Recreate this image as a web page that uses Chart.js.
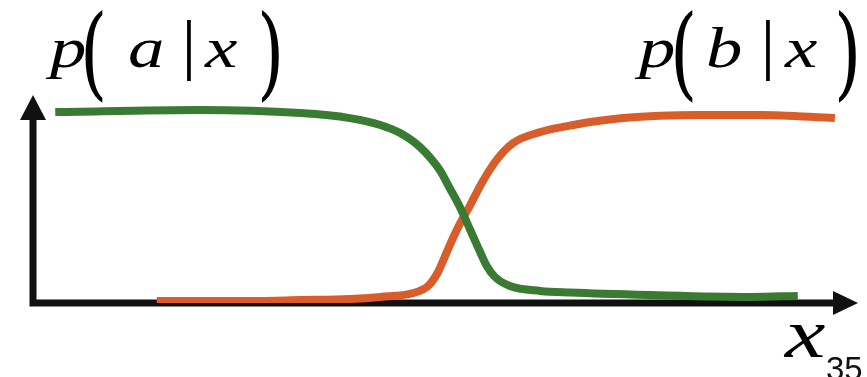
<!DOCTYPE html>
<html>
<head>
<meta charset="utf-8">
<script src="https://cdn.jsdelivr.net/npm/chart.js@4.4.1/dist/chart.umd.min.js"></script>
<style>
  html, body { margin: 0; padding: 0; background: #fff; }
  #wrap { position: relative; width: 867px; height: 377px; overflow: hidden; }
  .m { position: absolute; font-family: "Liberation Serif", "DejaVu Serif", serif; font-style: italic; line-height: 1; color: #000; white-space: nowrap; font-size: 56px; transform: scaleX(1.3); transform-origin: 0 0; }
  .par { position: absolute; font-family: "DejaVu Serif", serif; line-height: 1; color: #000; font-size: 70px; transform: scaleY(1.45); transform-origin: 50% 37px; }
  .bar { position: absolute; font-family: "Liberation Serif", serif; font-weight: bold; line-height: 1; color: #000; font-size: 54px; transform: scaleY(1.25); transform-origin: 50% 57px; }
  .num { position: absolute; font-family: "Liberation Sans", Arial, sans-serif; line-height: 1; color: #111; font-size: 33px; }
</style>
</head>
<body>
<div id="wrap">
  <canvas id="grafico"></canvas>

  <!-- p(a|x) -->
  <span class="m" style="left:50px;top:20px">p</span>
  <span class="par" style="left:80px;top:18px">(</span>
  <span class="m" style="left:128px;top:20px">a</span>
  <span class="bar" style="left:183px;top:25px">|</span>
  <span class="m" style="left:205px;top:20px">x</span>
  <span class="par" style="left:257px;top:18px">)</span>

  <!-- p(b|x) -->
  <span class="m" style="left:639px;top:20px">p</span>
  <span class="par" style="left:670px;top:18px">(</span>
  <span class="m" style="left:706px;top:20px">b</span>
  <span class="bar" style="left:762px;top:25px">|</span>
  <span class="m" style="left:785px;top:20px">x</span>
  <span class="par" style="left:834px;top:18px">)</span>

  <!-- eixo x -->
  <span class="m" style="left:785px;top:299px;font-size:70px">x</span>
  <span class="num" style="left:826px;top:352px">35</span>
</div>

<script>
// dados (x em unidades 0-100, y em probabilidade 0-1)
const xVerde = [2.7, 20.2, 32.4, 38.4, 42.1, 44.5, 46.9, 49.3, 50.5, 51.8, 53.0, 54.2, 55.0, 56.0, 57.8, 61.5, 65.1, 74.8, 86.9, 92.7];
const pA     = [0.918, 0.928, 0.913, 0.889, 0.856, 0.817, 0.750, 0.639, 0.553, 0.457, 0.351, 0.245, 0.178, 0.125, 0.082, 0.058, 0.050, 0.038, 0.029, 0.034];

const xLaranja = [15.0, 26.3, 32.4, 38.4, 42.1, 46.1, 47.9, 49.1, 49.9, 50.8, 51.8, 53.0, 54.4, 56.2, 58.2, 61.5, 65.5, 71.5, 80.8, 88.1, 97.2];
const pB       = [0.010, 0.010, 0.014, 0.019, 0.029, 0.048, 0.082, 0.149, 0.221, 0.303, 0.385, 0.471, 0.577, 0.688, 0.769, 0.822, 0.856, 0.889, 0.904, 0.904, 0.889];

const corVerde = '#3a7b33';
const corLaranja = '#d85d2a';

// desenha os eixos com setas
const eixos = {
    id: 'eixos',
    beforeDatasetsDraw(chart) {
        const { ctx, chartArea: a } = chart;
        ctx.save();
        ctx.strokeStyle = '#111';
        ctx.fillStyle = '#111';
        ctx.lineWidth = 7;
        ctx.beginPath();
        ctx.moveTo(a.left, a.bottom + 3.5);
        ctx.lineTo(a.left, a.top + 22);
        ctx.moveTo(a.left - 3.5, a.bottom);
        ctx.lineTo(a.right - 22, a.bottom);
        ctx.stroke();
        // seta vertical
        ctx.beginPath();
        ctx.moveTo(a.left, a.top);
        ctx.lineTo(a.left - 13, a.top + 25);
        ctx.lineTo(a.left + 13, a.top + 25);
        ctx.closePath();
        ctx.fill();
        // seta horizontal
        ctx.beginPath();
        ctx.moveTo(a.right, a.bottom);
        ctx.lineTo(a.right - 25, a.bottom - 12);
        ctx.lineTo(a.right - 25, a.bottom + 12);
        ctx.closePath();
        ctx.fill();
        ctx.restore();
    }
};

const ctx = document.getElementById('grafico').getContext('2d');
const grafico = new Chart(ctx, {
    type: 'line',
    data: {
        datasets: [{
            label: 'p(a|x)',
            data: xVerde.map((x, i) => ({ x: x, y: pA[i] })),
            borderColor: corVerde,
            borderWidth: 8,
            pointRadius: 0,
            cubicInterpolationMode: 'monotone'
        }, {
            label: 'p(b|x)',
            data: xLaranja.map((x, i) => ({ x: x, y: pB[i] })),
            borderColor: corLaranja,
            borderWidth: 8,
            pointRadius: 0,
            cubicInterpolationMode: 'monotone'
        }]
    },
    options: {
        responsive: true,
        maintainAspectRatio: false,
        animation: false,
        layout: { padding: { left: 33, right: 9, top: 95, bottom: 74 } },
        scales: {
            x: { type: 'linear', min: 0, max: 100, display: false },
            y: { min: 0, max: 1, display: false }
        },
        plugins: {
            legend: { display: false },
            tooltip: { enabled: false }
        }
    },
    plugins: [eixos]
});
</script>
</body>
</html>
